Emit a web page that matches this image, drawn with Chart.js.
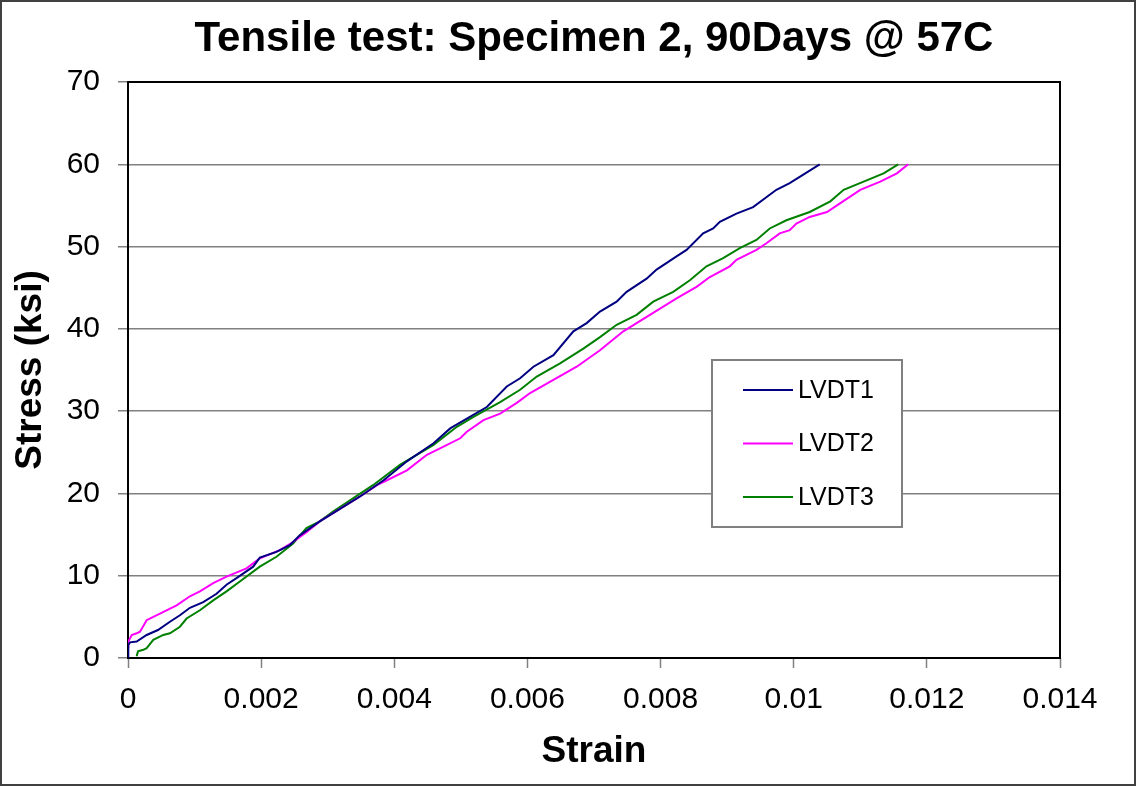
<!DOCTYPE html>
<html>
<head>
<meta charset="utf-8">
<title>Tensile test: Specimen 2, 90Days @ 57C</title>
<script src="https://cdn.jsdelivr.net/npm/chart.js@4/dist/chart.umd.min.js"></script>
<style>
  html, body { margin: 0; padding: 0; background: #ffffff; }
  #wrap { width: 1136px; height: 786px; position: relative; }
</style>
</head>
<body>
<div id="wrap"><canvas id="c" width="1136" height="786"></canvas></div>
<script>
// Strain / stress readings for each LVDT channel
const lvdt1Strain = [0, 0.0000045, 0.00003, 0.00013, 0.00028, 0.00045, 0.00063, 0.00078, 0.00093, 0.00113,
  0.00133, 0.00148, 0.00163, 0.00188, 0.00198, 0.00223, 0.00243, 0.00258, 0.00288, 0.00308,
  0.00348, 0.00384, 0.00419, 0.00459, 0.00484, 0.00509, 0.00539, 0.00569, 0.00589, 0.00609,
  0.00639, 0.00669, 0.00689, 0.00709, 0.00734, 0.00749, 0.00779, 0.00794, 0.00824, 0.00839,
  0.00864, 0.00879, 0.00889, 0.00914, 0.00939, 0.00974, 0.00994, 0.01039];
const lvdt1Stress = [0, 1.6, 1.9, 2.0, 2.8, 3.4, 4.4, 5.2, 6.1, 6.8,
  7.8, 8.9, 9.7, 11.1, 12.2, 12.9, 13.7, 14.9, 16.6, 17.6,
  19.6, 21.6, 23.9, 26.1, 27.9, 29.1, 30.5, 33.0, 34.0, 35.4,
  36.8, 39.7, 40.7, 42.1, 43.3, 44.5, 46.1, 47.2, 48.8, 49.6,
  51.6, 52.2, 53.0, 54.0, 54.8, 56.9, 57.7, 60.0];

const lvdt2Strain = [0, 0.000005, 0.000056, 0.00013, 0.00018, 0.00028, 0.00048, 0.00073, 0.00093, 0.00108,
  0.00128, 0.00148, 0.00178, 0.00198, 0.00228, 0.00248, 0.00268, 0.00288, 0.00308, 0.00348,
  0.00374, 0.00389, 0.00419, 0.00449, 0.00474, 0.00499, 0.00509, 0.00534, 0.00559, 0.00584,
  0.00604, 0.00639, 0.00674, 0.00709, 0.00744, 0.00784, 0.00824, 0.00854, 0.00874, 0.00904,
  0.00914, 0.00944, 0.00959, 0.00979, 0.00994, 0.01004, 0.01024, 0.0105, 0.01074, 0.011,
  0.0113, 0.01155, 0.01172];
const lvdt2Stress = [1.3, 2.0, 2.8, 3.0, 3.2, 4.6, 5.4, 6.4, 7.5, 8.1,
  9.1, 9.9, 10.9, 12.1, 13.1, 14.1, 15.3, 16.6, 17.6, 19.6,
  21.0, 21.6, 22.8, 24.7, 25.7, 26.7, 27.5, 28.9, 29.7, 31.0,
  32.2, 33.8, 35.4, 37.4, 39.7, 41.7, 43.7, 45.1, 46.3, 47.6,
  48.4, 49.6, 50.4, 51.6, 52.0, 52.8, 53.6, 54.2, 55.5, 56.9,
  57.9, 58.9, 60.0];

const lvdt3Strain = [0.00013, 0.00015, 0.00023, 0.00028, 0.00038, 0.00053, 0.00063, 0.00078, 0.00088, 0.00108,
  0.00128, 0.00148, 0.00168, 0.00198, 0.00223, 0.00248, 0.00268, 0.00288, 0.00308, 0.00338,
  0.00368, 0.00409, 0.00459, 0.00494, 0.00519, 0.00559, 0.00589, 0.00614, 0.00649, 0.00684,
  0.00709, 0.00734, 0.00764, 0.00789, 0.00819, 0.00844, 0.00869, 0.00894, 0.00919, 0.00944,
  0.00964, 0.00989, 0.01024, 0.01055, 0.01075, 0.01105, 0.01135, 0.01157];
const lvdt3Stress = [0.2, 0.8, 1.0, 1.2, 2.2, 2.8, 3.0, 3.8, 4.8, 5.8,
  7.0, 8.1, 9.3, 11.1, 12.3, 13.9, 15.8, 16.6, 17.8, 19.4,
  21.0, 23.5, 25.9, 28.1, 29.3, 31.1, 32.6, 34.2, 35.8, 37.6,
  39.0, 40.5, 41.7, 43.3, 44.5, 45.9, 47.6, 48.6, 49.8, 50.8,
  52.2, 53.2, 54.2, 55.5, 56.9, 57.9, 58.9, 60.0];

const seriesNames = ['LVDT1', 'LVDT2', 'LVDT3'];
const seriesColors = ['#000080', '#FF00FF', '#008000'];

// Axis tick values
const strainTicks = [0, 0.002, 0.004, 0.006, 0.008, 0.01, 0.012, 0.014];
const stressTicks = [0, 10, 20, 30, 40, 50, 60, 70];

const FONT = "'Liberation Sans', Arial, sans-serif";

function toPoints(xs, ys) {
  return xs.map((x, i) => ({ x: x, y: ys[i] }));
}

const strainSets = [lvdt1Strain, lvdt2Strain, lvdt3Strain];
const stressSets = [lvdt1Stress, lvdt2Stress, lvdt3Stress];

const datasets = seriesNames.map((name, i) => ({
  label: name,
  data: toPoints(strainSets[i], stressSets[i]),
  borderColor: seriesColors[i],
  backgroundColor: seriesColors[i],
  borderWidth: 2,
  pointRadius: 0,
  showLine: true,
  tension: 0,
  fill: false
}));

// White page, outer frame and plot-area frame
const framePlugin = {
  id: 'frames',
  beforeDraw(chart) {
    const ctx = chart.ctx;
    ctx.save();
    ctx.fillStyle = '#ffffff';
    ctx.fillRect(0, 0, chart.width, chart.height);
    ctx.restore();
  },
  beforeDatasetsDraw(chart) {
    const { ctx, chartArea: a } = chart;
    ctx.save();
    ctx.strokeStyle = '#000000';
    ctx.lineWidth = 2;
    ctx.strokeRect(a.left, a.top, a.right - a.left, a.bottom - a.top);
    ctx.restore();
  },
  afterDraw(chart) {
    const ctx = chart.ctx;
    ctx.save();
    ctx.strokeStyle = '#404040';
    ctx.lineWidth = 2;
    ctx.strokeRect(1, 1, chart.width - 2, chart.height - 2);
    ctx.restore();
  }
};

// Boxed legend placed inside the plot area
const boxLegendPlugin = {
  id: 'boxLegend',
  afterDatasetsDraw(chart, args, opts) {
    const { ctx, chartArea: a } = chart;
    const x0 = a.left + opts.offsetX;
    const y0 = a.top + opts.offsetY;
    ctx.save();
    ctx.fillStyle = '#ffffff';
    ctx.fillRect(x0, y0, opts.width, opts.height);
    ctx.strokeStyle = '#808080';
    ctx.lineWidth = 2;
    ctx.strokeRect(x0, y0, opts.width, opts.height);
    ctx.font = opts.fontSize + 'px ' + FONT;
    ctx.textBaseline = 'middle';
    ctx.textAlign = 'left';
    chart.data.datasets.forEach((ds, i) => {
      const cy = y0 + opts.firstRow + i * opts.rowGap;
      ctx.strokeStyle = ds.borderColor;
      ctx.lineWidth = 2;
      ctx.beginPath();
      ctx.moveTo(x0 + opts.lineStart, cy);
      ctx.lineTo(x0 + opts.lineEnd, cy);
      ctx.stroke();
      ctx.fillStyle = '#000000';
      ctx.fillText(ds.label, x0 + opts.textStart, cy + 1);
    });
    ctx.restore();
  }
};

new Chart(document.getElementById('c'), {
  type: 'scatter',
  data: { datasets: datasets },
  plugins: [framePlugin, boxLegendPlugin],
  options: {
    responsive: false,
    animation: false,
    events: [],
    layout: { padding: { left: 0, right: 76, top: 0, bottom: 0 } },
    plugins: {
      legend: { display: false },
      tooltip: { enabled: false },
      title: {
        display: true,
        fullSize: false,
        text: 'Tensile test: Specimen 2, 90Days @ 57C',
        color: '#000000',
        font: { family: FONT, size: 42, weight: 'bold', lineHeight: 1.2 },
        padding: { top: 14, bottom: 17.6 }
      },
      boxLegend: {
        offsetX: 584, offsetY: 278, width: 190, height: 167,
        firstRow: 30, rowGap: 53.5,
        lineStart: 31, lineEnd: 81, textStart: 86,
        fontSize: 25
      }
    },
    scales: {
      x: {
        type: 'linear',
        min: 0,
        max: 0.014,
        afterBuildTicks(scale) {
          scale.ticks = strainTicks.map(v => ({ value: v }));
        },
        afterFit(scale) { scale.height = 128; },
        border: { display: false },
        grid: {
          drawOnChartArea: false,
          drawTicks: true,
          tickLength: 10,
          tickColor: '#808080',
          tickWidth: 1.5
        },
        ticks: {
          color: '#000000',
          padding: 14,
          maxRotation: 0,
          autoSkip: false,
          font: { family: FONT, size: 30 },
          callback: v => String(parseFloat(Number(v).toFixed(3)))
        },
        title: {
          display: true,
          text: 'Strain',
          color: '#000000',
          font: { family: FONT, size: 37, weight: 'bold', lineHeight: 1.2 },
          padding: { top: 0, bottom: 12 }
        }
      },
      y: {
        type: 'linear',
        min: 0,
        max: 70,
        afterBuildTicks(scale) {
          scale.ticks = stressTicks.map(v => ({ value: v }));
        },
        afterFit(scale) { scale.width = 128; },
        border: { display: false },
        grid: {
          drawOnChartArea: true,
          drawTicks: true,
          tickLength: 10,
          color: '#808080',
          lineWidth: 1.5,
          tickColor: '#808080',
          tickWidth: 1.5
        },
        ticks: {
          color: '#000000',
          padding: 18,
          autoSkip: false,
          font: { family: FONT, size: 30 }
        },
        title: {
          display: true,
          text: 'Stress (ksi)',
          color: '#000000',
          font: { family: FONT, size: 37, weight: 'bold', lineHeight: 1.2 },
          padding: { top: 9, bottom: 0 }
        }
      }
    }
  }
});
</script>
</body>
</html>
